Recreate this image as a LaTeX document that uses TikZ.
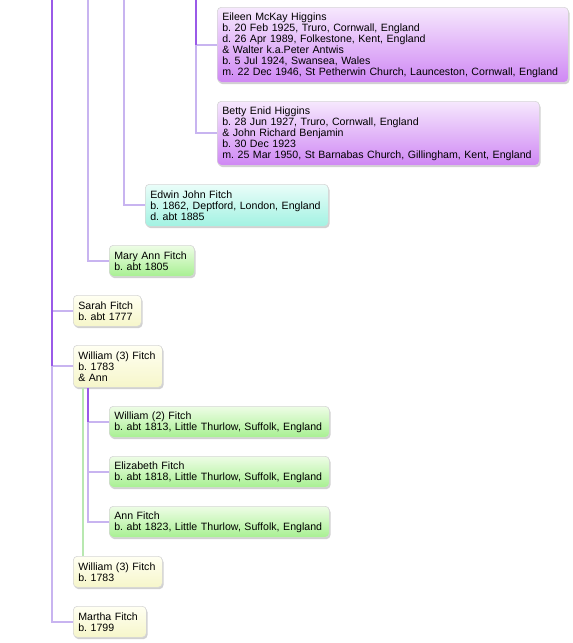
\documentclass[tikz,border=0pt]{standalone}
\usepackage{fontspec}
\setmainfont{Liberation Sans}
\usetikzlibrary{shadows}
\definecolor{boxborder}{HTML}{D6D6D6}
\definecolor{linedark}{HTML}{9A5AE8}
\definecolor{linelight}{HTML}{C8B4F0}
\definecolor{linegreen}{HTML}{B8E8B0}
\definecolor{purtop}{HTML}{F6E8FD}
\definecolor{purbot}{HTML}{CF88F4}
\definecolor{cyntop}{HTML}{EAFDF9}
\definecolor{cynbot}{HTML}{A2F2E2}
\definecolor{yeltop}{HTML}{FFFFF2}
\definecolor{yelbot}{HTML}{F6F6CA}
\definecolor{grntop}{HTML}{EEFDE6}
\definecolor{grnbot}{HTML}{A8F092}
\frenchspacing
\begin{document}
\begin{tikzpicture}[x=1pt,y=-1pt,
  box/.style={draw=boxborder, line width=0.6pt, rounded corners=4pt,
    anchor=north west, align=left, inner xsep=5pt, inner ysep=0pt,
    font=\fontsize{10.6}{11}\selectfont,
    drop shadow={shadow xshift=1.2pt, shadow yshift=-1.8pt, opacity=0.18, fill=black}},
  purple/.style={box, top color=purtop, bottom color=purbot},
  cyan/.style={box, top color=cyntop, bottom color=cynbot},
  yellow/.style={box, top color=yeltop, bottom color=yelbot},
  green/.style={box, top color=grntop, bottom color=grnbot},
  dk/.style={draw=linedark, line width=2pt},
  lt/.style={draw=linelight, line width=2pt},
  gl/.style={draw=linegreen, line width=2pt}]
\useasboundingbox (0,0) rectangle (573,643);

% nodes
\node[purple, text width=341pt, minimum height=75pt] (eileen) at (217,7)
  {Eileen McKay Higgins\\b. 20 Feb 1925, Truro, Cornwall, England\\d. 26 Apr 1989, Folkestone, Kent, England\\\& Walter k.a.Peter Antwis\\b. 5 Jul 1924, Swansea, Wales\\m. 22 Dec 1946, St Petherwin Church, Launceston, Cornwall, England};
\node[purple, text width=312pt, minimum height=64pt] (betty) at (217,101)
  {Betty Enid Higgins\\b. 28 Jun 1927, Truro, Cornwall, England\\\& John Richard Benjamin\\b. 30 Dec 1923\\m. 25 Mar 1950, St Barnabas Church, Gillingham, Kent, England};
\node[cyan, text width=173pt, minimum height=42pt] (edwin) at (145,184)
  {Edwin John Fitch\\b. 1862, Deptford, London, England\\d. abt 1885};
\node[green, text width=75pt, minimum height=31pt] (mary) at (109,245)
  {Mary Ann Fitch\\b. abt 1805};
\node[yellow, text width=58pt, minimum height=31pt] (sarah) at (73,295)
  {Sarah Fitch\\b. abt 1777};
\node[yellow, text width=79pt, minimum height=42pt] (wthreea) at (73,345)
  {William (3) Fitch\\b. 1783\\\& Ann};
\node[green, text width=210pt, minimum height=31pt] (wtwo) at (109,406)
  {William (2) Fitch\\b. abt 1813, Little Thurlow, Suffolk, England};
\node[green, text width=210pt, minimum height=31pt] (eliz) at (109,456)
  {Elizabeth Fitch\\b. abt 1818, Little Thurlow, Suffolk, England};
\node[green, text width=210pt, minimum height=31pt] (ann) at (109,506)
  {Ann Fitch\\b. abt 1823, Little Thurlow, Suffolk, England};
\node[yellow, text width=79pt, minimum height=31pt] (wthreeb) at (73,556)
  {William (3) Fitch\\b. 1783};
\node[yellow, text width=63pt, minimum height=31pt] (martha) at (73,606)
  {Martha Fitch\\b. 1799};

% top coordinates of the vertical lines
\coordinate (va) at (52,0);
\coordinate (vb) at (88,0);
\coordinate (vc) at (124,0);
\coordinate (vd) at (196,0);
\coordinate (vg) at (83,0);
\coordinate (ve) at (88,0);

% outer line x=52
\draw[lt] (va |- wthreea.west) |- (martha.west);
\draw[lt] (va |- sarah.west) -- (sarah.west);
\draw[lt] (va |- wthreea.west) -- (wthreea.west);
\draw[dk] (va) -- (va |- wthreea.west);
% x=88
\draw[lt] (vb) |- (mary.west);
% x=124
\draw[lt] (vc) |- (edwin.west);
% x=196
\draw[lt] (vd |- eileen.west) |- (betty.west);
\draw[lt] (vd |- eileen.west) -- (eileen.west);
\draw[dk] (vd) -- (vd |- eileen.west);
% William (3) spouse line
\draw[gl] (vg |- wthreea.south) -- (vg |- wthreeb.north);
% children of William (3) and Ann
\draw[lt] (ve |- wtwo.west) |- (ann.west);
\draw[lt] (ve |- eliz.west) -- (eliz.west);
\draw[lt] (ve |- wtwo.west) -- (wtwo.west);
\draw[dk] (ve |- wthreea.south) -- (ve |- wtwo.west);
\end{tikzpicture}
\end{document}
